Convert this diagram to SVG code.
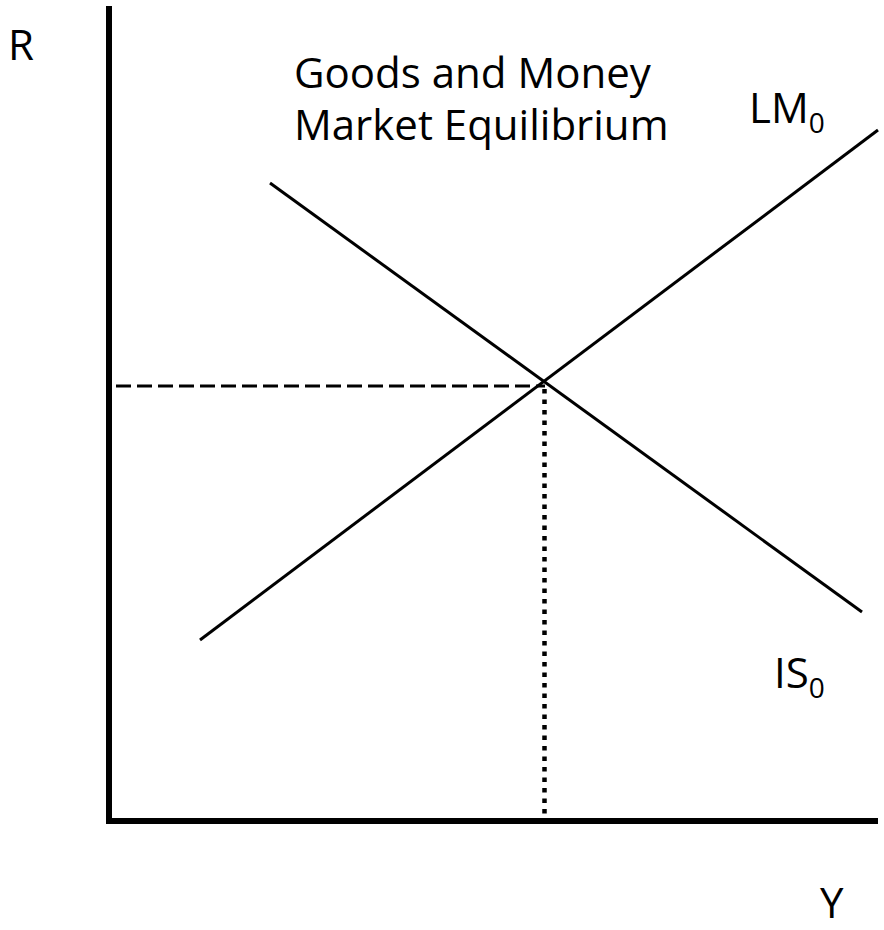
<svg xmlns="http://www.w3.org/2000/svg" width="884" height="930" viewBox="0 0 884 930">
<style>
text{font-family:"Open Sans","Liberation Sans",sans-serif;fill:#000;font-size:42px}
.sub{font-size:28px}
.curve{stroke:#000;stroke-width:3;fill:none}
.axis{stroke:#000;stroke-width:6;fill:none}
</style>
<rect width="884" height="930" fill="#fff"/>
<g id="axes">
<line class="axis" x1="109" y1="6" x2="109" y2="823"/>
<line class="axis" x1="106" y1="821" x2="878" y2="821"/>
</g>
<g id="connectors">
<line x1="116" y1="386" x2="545" y2="386" stroke="#000" stroke-width="3" stroke-dasharray="15 6"/>
<line x1="544.5" y1="389" x2="544.5" y2="818" stroke="#000" stroke-width="4.5" stroke-dasharray="4.5 6"/>
</g>
<g id="IS0">
<line class="curve" x1="270" y1="183" x2="862" y2="612"/>
<text x="774" y="688">IS<tspan class="sub" dy="10">0</tspan></text>
</g>
<g id="LM0">
<line class="curve" x1="200" y1="640" x2="878" y2="130"/>
<text x="749" y="123">LM<tspan class="sub" dy="10">0</tspan></text>
</g>
<g id="labels">
<text x="8" y="60">R</text>
<text x="820" y="918">Y</text>
<text x="294" y="88">Goods and Money</text>
<text x="294" y="140">Market Equilibrium</text>
</g>
</svg>
